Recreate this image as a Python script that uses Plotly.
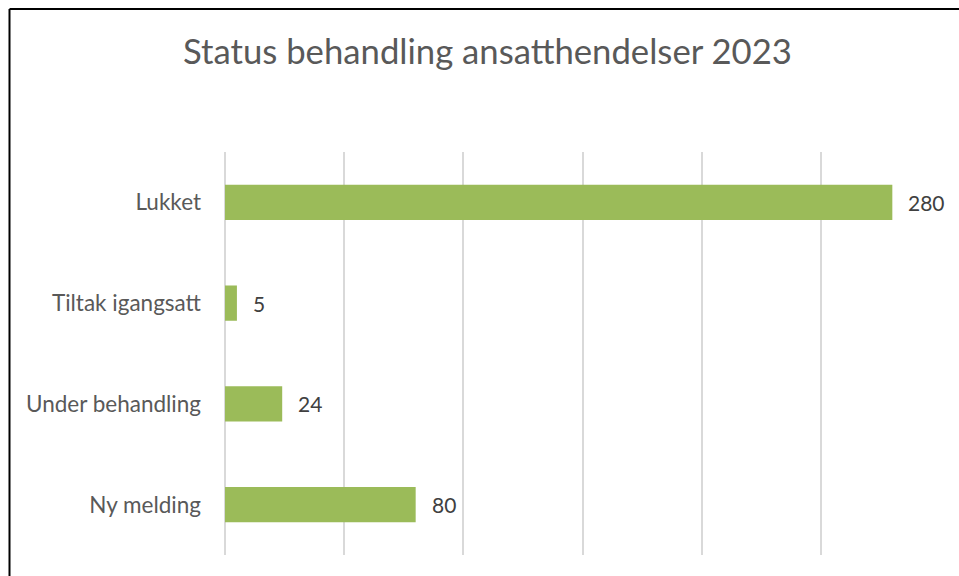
import plotly.graph_objects as go

# Status categories (bottom to top) and counts
categories = ["Ny melding", "Under behandling", "Tiltak igangsatt", "Lukket"]
counts = [80, 24, 5, 280]
title_text = "Status behandling ansatthendelser 2023"

W, H = 959, 576
L, R, T, B = 225, 19, 152, 21
plot_w = W - L - R
plot_h = H - T - B
FONT = "Lato, Carlito, sans-serif"

fig = go.Figure()
fig.add_trace(go.Bar(
    x=counts,
    y=categories,
    orientation="h",
    marker=dict(color="#9BBB59", line=dict(width=0)),
    hoverinfo="x+y",
))

# value labels to the right of each bar
for cat, val in zip(categories, counts):
    fig.add_annotation(
        x=val, y=cat, text=str(val), showarrow=False,
        xanchor="left", yanchor="middle", xshift=14,
        font=dict(family=FONT, size=21, color="#404040"),
    )

# chart frame (left and top edges)
px = lambda p: (p - L) / plot_w
py = lambda p: 1 - (p - T) / plot_h
fig.add_shape(type="line", xref="paper", yref="paper",
              x0=px(9.5), x1=px(W + 5), y0=py(9), y1=py(9),
              line=dict(color="#000000", width=2))
fig.add_shape(type="line", xref="paper", yref="paper",
              x0=px(9.5), x1=px(9.5), y0=py(9), y1=py(H + 5),
              line=dict(color="#000000", width=2))

fig.update_layout(
    width=W, height=H,
    margin=dict(l=L, r=R, t=T, b=B),
    paper_bgcolor="white", plot_bgcolor="white",
    bargap=0.65,
    showlegend=False,
    title=dict(
        text=title_text, x=487.5 / W, xanchor="center", xref="container",
        y=1 - 52 / H, yanchor="middle", yref="container",
        font=dict(family=FONT, size=34.7, color="#595959"),
    ),
    font=dict(family=FONT),
)
fig.update_xaxes(
    range=[0, 300], dtick=50, showticklabels=False,
    showgrid=True, gridcolor="#D9D9D9", gridwidth=1.5,
    zeroline=True, zerolinecolor="#D9D9D9", zerolinewidth=1.5,
    showline=False, fixedrange=True,
)
fig.update_yaxes(
    categoryorder="array", categoryarray=categories,
    showgrid=False, zeroline=False, showline=False,
    ticks="", ticklabelstandoff=23,
    tickfont=dict(family=FONT, size=22.5, color="#595959"),
    fixedrange=True,
)

fig.write_html("out.html")
